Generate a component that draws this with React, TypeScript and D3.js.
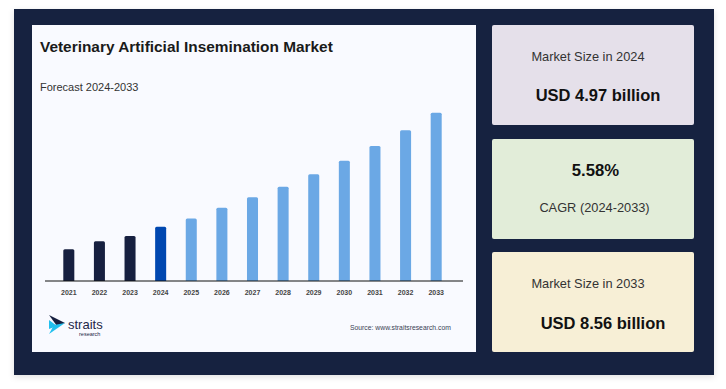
import React from 'react';
import * as d3 from 'd3';

// market size, USD billion
const years = ['2021', '2022', '2023', '2024', '2025', '2026', '2027', '2028', '2029', '2030', '2031', '2032', '2033'];
const marketSize = [4.26, 4.51, 4.68, 4.97, 5.23, 5.57, 5.9, 6.23, 6.62, 7.05, 7.51, 8.01, 8.56];
const barKind = ['hist', 'hist', 'hist', 'base', 'fc', 'fc', 'fc', 'fc', 'fc', 'fc', 'fc', 'fc', 'fc'];

const cards = [
  { top: 'Market Size in 2024', bottom: 'USD 4.97 billion', boldFirst: false, fill: '#e5e0ea' },
  { top: '5.58%', bottom: 'CAGR (2024-2033)', boldFirst: true, fill: '#e2edd9' },
  { top: 'Market Size in 2033', bottom: 'USD 8.56 billion', boldFirst: false, fill: '#f7efd6' },
];

const colors = { hist: '#172040', base: '#0047b0', fc: '#6ba8e5' };
const font = 'Liberation Sans, Arial, sans-serif';

export default function App() {
  const x = d3.scaleBand<string>().domain(years).range([53.5, 451.5]).paddingInner(0.64).paddingOuter(0.32);
  const y = d3.scaleLinear().domain([3.26, 8.56]).range([281, 112.7]);
  const cardY = [25, 139, 252];

  return (
    <svg width={726} height={389} style={{ position: 'absolute', left: 0, top: 0 }}>
      <defs>
        <filter id="sh" x="-5%" y="-5%" width="110%" height="115%">
          <feDropShadow dx="0" dy="2" stdDeviation="3" floodColor="#000" floodOpacity="0.12" />
        </filter>
      </defs>
      <rect width={726} height={389} fill="#fff" />
      <rect x={14} y={9} width={700} height={366} fill="#18213f" filter="url(#sh)" />
      <rect x={32} y={25} width={444} height={327} fill="#f9faff" />

      <text x={40} y={51.5} fontFamily={font} fontSize={15.4} fontWeight="bold" fill="#1a1a1a">
        Veterinary Artificial Insemination Market
      </text>
      <text x={40} y={91} fontFamily={font} fontSize={11} fill="#333">Forecast 2024-2033</text>

      {years.map((yr, i) => (
        <path
          key={yr}
          d={(() => {
            const bx = x(yr)!;
            const w = x.bandwidth();
            const top = y(marketSize[i]);
            const r = 1.5;
            return `M${bx},281V${top + r}Q${bx},${top} ${bx + r},${top}H${bx + w - r}Q${bx + w},${top} ${bx + w},${top + r}V281Z`;
          })()}
          fill={colors[barKind[i] as keyof typeof colors]}
        />
      ))}
      <line x1={45} x2={463} y1={281} y2={281} stroke="#111" strokeWidth={1.2} />
      {years.map((yr) => (
        <text key={yr} x={x(yr)! + x.bandwidth() / 2} y={294.5} textAnchor="middle" fontFamily={font} fontSize={7} fontWeight="bold" fill="#444">
          {yr}
        </text>
      ))}

      {/* logo */}
      <path d="M49,315 L65,323 L57,326 Z" fill="#172040" />
      <path d="M65,323 L49,334 L54,325 Z" fill="#22c0ee" />
      <path d="M49,320 L57,326 L49,329 Z" fill="#22c0ee" />
      <text x={68} y={329} fontFamily={font} fontSize={13} fill="#1e2648">straits</text>
      <text x={79} y={336} fontFamily={font} fontSize={5.5} fill="#1e2648">research</text>
      <text x={350} y={330} fontFamily={font} fontSize={6.8} fill="#3a3f55">Source: www.straitsresearch.com</text>

      {cards.map((c, i) => (
        <g key={i}>
          <rect x={492} y={cardY[i]} width={202} height={100} rx={2} fill={c.fill} />
          {c.boldFirst ? (
            <>
              <text x={595.5} y={cardY[i] + 37} textAnchor="middle" fontFamily={font} fontSize={16.7} fontWeight="bold" fill="#111">{c.top}</text>
              <text x={594.5} y={cardY[i] + 72.5} textAnchor="middle" fontFamily={font} fontSize={12.8} fill="#333">{c.bottom}</text>
            </>
          ) : (
            <>
              <text x={588} y={cardY[i] + 35.5} textAnchor="middle" fontFamily={font} fontSize={12.8} fill="#333">{c.top}</text>
              <text x={598 + i * 2.5} y={cardY[i] + 75.5 + (i === 2 ? 1.5 : 0)} textAnchor="middle" fontFamily={font} fontSize={16.5} fontWeight="bold" fill="#111">{c.bottom}</text>
            </>
          )}
        </g>
      ))}
    </svg>
  );
}
